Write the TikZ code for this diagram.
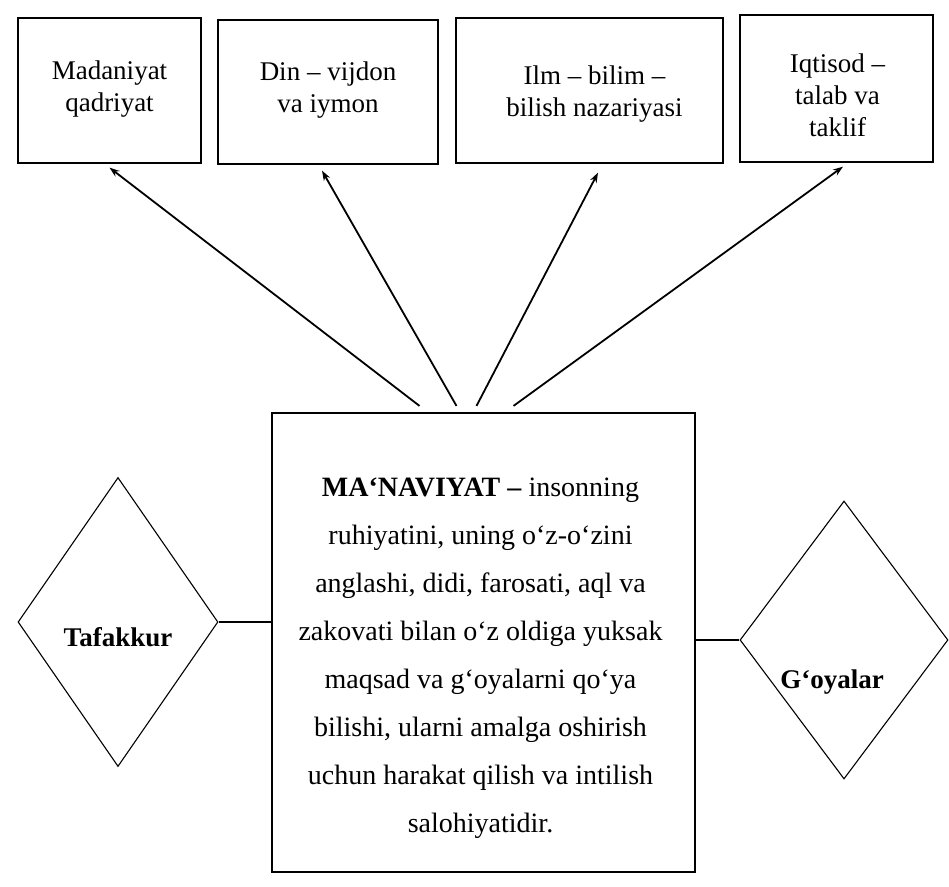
\documentclass[tikz,border=0pt]{standalone}
\usepackage{fontspec}
\setmainfont{Liberation Serif}
\usetikzlibrary{positioning, shapes.geometric, arrows.meta}

\tikzset{
  caja/.style={draw, line width=1.3pt, inner sep=0pt},
  cajatexto/.style={align=center, inner sep=0pt, font=\fontsize{27}{32}\selectfont},
  principal/.style={draw, line width=2.2pt, inner sep=0pt},
  textoprincipal/.style={align=center, inner sep=0pt, font=\fontsize{28}{48}\selectfont},
  rombo/.style={draw, diamond, line width=1.1pt, inner sep=0pt},
  rombotexto/.style={inner sep=0pt, font=\bfseries\fontsize{27}{30}\selectfont},
  flecha/.style={line width=1.8pt, -{Stealth[length=10pt, width=7pt]}},
  linea/.style={line width=1.8pt},
}

\begin{document}
\begin{tikzpicture}[x=1pt, y=-1pt] % y hacia abajo
\useasboundingbox (0,0) rectangle (949,886);

% cajas de arriba
\node[caja, minimum width=183pt, minimum height=145pt] (madaniyat) at (109.5,90.5) {};
\node[caja, minimum width=220pt, minimum height=144pt] (din) at (328,92) {};
\node[caja, minimum width=267pt, minimum height=145pt] (ilm) at (589.5,90.5) {};
\node[caja, minimum width=193pt, minimum height=147pt] (iqtisod) at (836.5,88.5) {};

\node[cajatexto, below=43pt of madaniyat.north] (tmadaniyat) {Madaniyat\\qadriyat};
\node[cajatexto, below=42pt of din.north] (tdin) {Din – vijdon\\va iymon};
\node[cajatexto, below=48pt of ilm.north, xshift=5pt] (tilm) {Ilm – bilim –\\bilish nazariyasi};
\node[cajatexto, below=39pt of iqtisod.north, xshift=1pt] (tiqtisod) {Iqtisod –\\talab va\\taklif};

% caja central
\node[principal, minimum width=423pt, minimum height=459pt] (main) at (483.5,642.5) {};
\node[textoprincipal, below=66pt of main.north, xshift=-3pt] (tmain)
  {\textbf{MA‘NAVIYAT –} insonning\\ruhiyatini, uning o‘z-o‘zini\\anglashi, didi, farosati, aql va\\zakovati bilan o‘z oldiga yuksak\\maqsad va g‘oyalarni qo‘ya\\bilishi, ularni amalga oshirish\\uchun harakat qilish va intilish\\salohiyatidir.};

% rombos
\node[rombo, minimum width=200pt, minimum height=289pt,
  label={[rombotexto, yshift=-15pt]center:Tafakkur}] (tafakkur) at (118,622) {};
\node[rombo, minimum width=208pt, minimum height=278pt,
  label={[rombotexto, xshift=-12pt, yshift=-42pt]center:G‘oyalar}] (goyalar) at (844,640) {};

\draw[linea] (tafakkur.east) -- (tafakkur.east -| main.west);
\draw[linea] (goyalar.west) -- (goyalar.west -| main.east);

% flechas
\coordinate (s1) at ([xshift=-64pt, yshift=6pt]main.north);
\coordinate (s2) at ([xshift=-27pt, yshift=6pt]main.north);
\coordinate (s3) at ([xshift=-7pt, yshift=6pt]main.north);
\coordinate (s4) at ([xshift=30pt, yshift=6pt]main.north);

\draw   (s1) edge[flecha] ([yshift=-4pt]madaniyat.south)
	(s2) edge[flecha] ([xshift=-6pt, yshift=-6pt]din.south)
	(s3) edge[flecha] ([xshift=8.5pt, yshift=-9pt]ilm.south)
	(s4) edge[flecha] ([xshift=6.5pt, yshift=-4pt]iqtisod.south)
;
\end{tikzpicture}
\end{document}
